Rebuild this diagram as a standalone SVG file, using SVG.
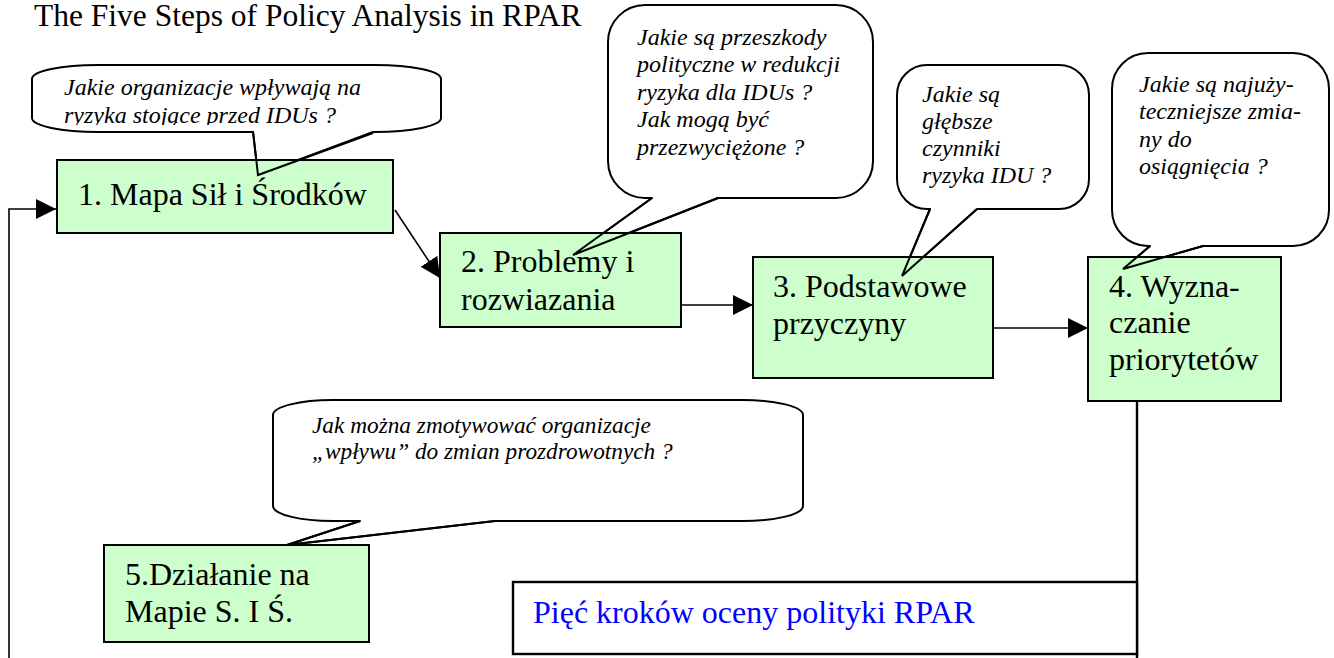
<svg xmlns="http://www.w3.org/2000/svg" width="1334" height="658" viewBox="0 0 1334 658">
<style>
.box{fill:#ccffcc;stroke:#000;stroke-width:2}
.bub{fill:#fff;stroke:#000;stroke-width:2;stroke-linejoin:round}
.tail{fill:none;stroke:#000;stroke-width:2;stroke-linejoin:miter}
.bt{font-family:"Liberation Serif","DejaVu Serif",serif;font-size:32px;fill:#000}
.q{font-family:"Liberation Serif","DejaVu Serif",serif;font-size:24px;font-style:italic;fill:#000}
.ln{fill:none;stroke:#000;stroke-width:1.6}
</style>
<defs>
<marker id="ah" markerUnits="userSpaceOnUse" markerWidth="21" markerHeight="20" refX="20" refY="10" orient="auto" viewBox="0 0 21 20">
<path d="M0,0 L20,10 L0,20 Z" fill="#000"/>
</marker>
<clipPath id="clip1"><rect x="32" y="65" width="409" height="60"/></clipPath>
</defs>
<rect width="1334" height="658" fill="#fff"/>
<text x="34" y="26" class="bt" style="font-size:31.5px">The Five Steps of Policy Analysis in RPAR</text>

<g id="bubble1">
<path class="bub" d="M98,65 H375 A66,14 0 0 1 441,79 V118 A66,14 0 0 1 375,132 H373 L258,175 L253,132 H98 A66,14 0 0 1 32,118 V79 A66,14 0 0 1 98,65 Z"/>
<g clip-path="url(#clip1)">
<text class="q" x="64" y="95">Jakie organizacje wpływają na</text>
<text class="q" x="64" y="123">ryzyka stojące przed IDUs ?</text>
</g>
</g>
<g id="bubble2">
<path class="bub" d="M645,5 H836 A37,37 0 0 1 873,42 V161 A37,37 0 0 1 836,198 H718 L573,255 L652,198 H645 A37,37 0 0 1 608,161 V42 A37,37 0 0 1 645,5 Z"/>
<text class="q" x="637" y="45">Jakie są przeszkody</text>
<text class="q" x="637" y="72">polityczne w redukcji</text>
<text class="q" x="637" y="100">ryzyka dla IDUs ?</text>
<text class="q" x="637" y="127">Jak mogą być</text>
<text class="q" x="637" y="155">przezwyciężone ?</text>
</g>
<g id="bubble3">
<path class="bub" d="M927,65 H1059 A30,30 0 0 1 1089,95 V179 A30,30 0 0 1 1059,209 H977 L902,276 L930,209 H927 A30,30 0 0 1 897,179 V95 A30,30 0 0 1 927,65 Z"/>
<text class="q" x="922" y="102">Jakie są</text>
<text class="q" x="922" y="129">głębsze</text>
<text class="q" x="922" y="156">czynniki</text>
<text class="q" x="922" y="183">ryzyka IDU ?</text>
</g>
<g id="bubble4">
<path class="bub" d="M1148,53 H1293 A36,36 0 0 1 1329,89 V210 A36,36 0 0 1 1293,246 H1203 L1123,269 L1150,246 H1148 A36,36 0 0 1 1112,210 V89 A36,36 0 0 1 1148,53 Z"/>
<text class="q" x="1139" y="92">Jakie są najuży-</text>
<text class="q" x="1139" y="119">teczniejsze zmia-</text>
<text class="q" x="1139" y="147">ny do</text>
<text class="q" x="1139" y="174">osiągnięcia ?</text>
</g>
<g id="bubble5">
<path class="bub" d="M333,400 H743 A60,15 0 0 1 803,415 V506 A60,15 0 0 1 743,521 H495 L287,545 L360,521 H333 A60,15 0 0 1 273,506 V415 A60,15 0 0 1 333,400 Z"/>
<text class="q" style="font-size:23.3px" x="312" y="433">Jak można zmotywować organizacje</text>
<text class="q" style="font-size:23.3px" x="312" y="459">„wpływu” do zmian prozdrowotnych ?</text>
</g>

<g id="connectors">
<polyline class="ln" points="9,658 9,209 56,209" marker-end="url(#ah)"/>
<line class="ln" x1="395" y1="210" x2="440" y2="278" marker-end="url(#ah)"/>
<line class="ln" x1="681" y1="305" x2="753" y2="305" marker-end="url(#ah)"/>
<line class="ln" x1="993" y1="328" x2="1088" y2="328" marker-end="url(#ah)"/>
<line x1="1137" y1="401" x2="1137" y2="658" stroke="#000" stroke-width="2.4"/>
</g>

<g id="step1">
<rect class="box" x="57" y="160" width="336" height="73"/>
<text class="bt" x="78" y="205">1. Mapa Sił i Środków</text>
</g>
<g id="step2">
<rect class="box" x="440" y="233" width="241" height="94"/>
<text class="bt" x="461" y="272">2. Problemy i</text>
<text class="bt" x="461" y="310">rozwiazania</text>
</g>
<g id="step3">
<rect class="box" x="753" y="257" width="240" height="121"/>
<text class="bt" x="773" y="297">3. Podstawowe</text>
<text class="bt" x="773" y="334">przyczyny</text>
</g>
<g id="step4">
<rect class="box" x="1088" y="257" width="193" height="144"/>
<text class="bt" x="1109" y="297">4. Wyzna-</text>
<text class="bt" x="1109" y="333">czanie</text>
<text class="bt" x="1109" y="370">priorytetów</text>
</g>
<g id="step5">
<rect class="box" x="104" y="545" width="265" height="97"/>
<text class="bt" x="125" y="585">5.Działanie na</text>
<text class="bt" x="125" y="622">Mapie S. I Ś.</text>
</g>
<g id="caption">
<rect x="513" y="582" width="624" height="72" fill="#fff" stroke="#000" stroke-width="2.4"/>
<text class="bt" x="533" y="623" style="fill:#0000ff">Pięć kroków oceny polityki RPAR</text>
</g>

<g id="callout-tails">
<polyline class="tail" points="253,131 258,175 373,133"/>
<polyline class="tail" points="652,198 573,255 718,198"/>
<polyline class="tail" points="930,209 902,276 977,209"/>
<polyline class="tail" points="1150,246 1123,269 1203,246"/>
<polyline class="tail" points="360,521 287,545 495,521"/>
</g>
</svg>
